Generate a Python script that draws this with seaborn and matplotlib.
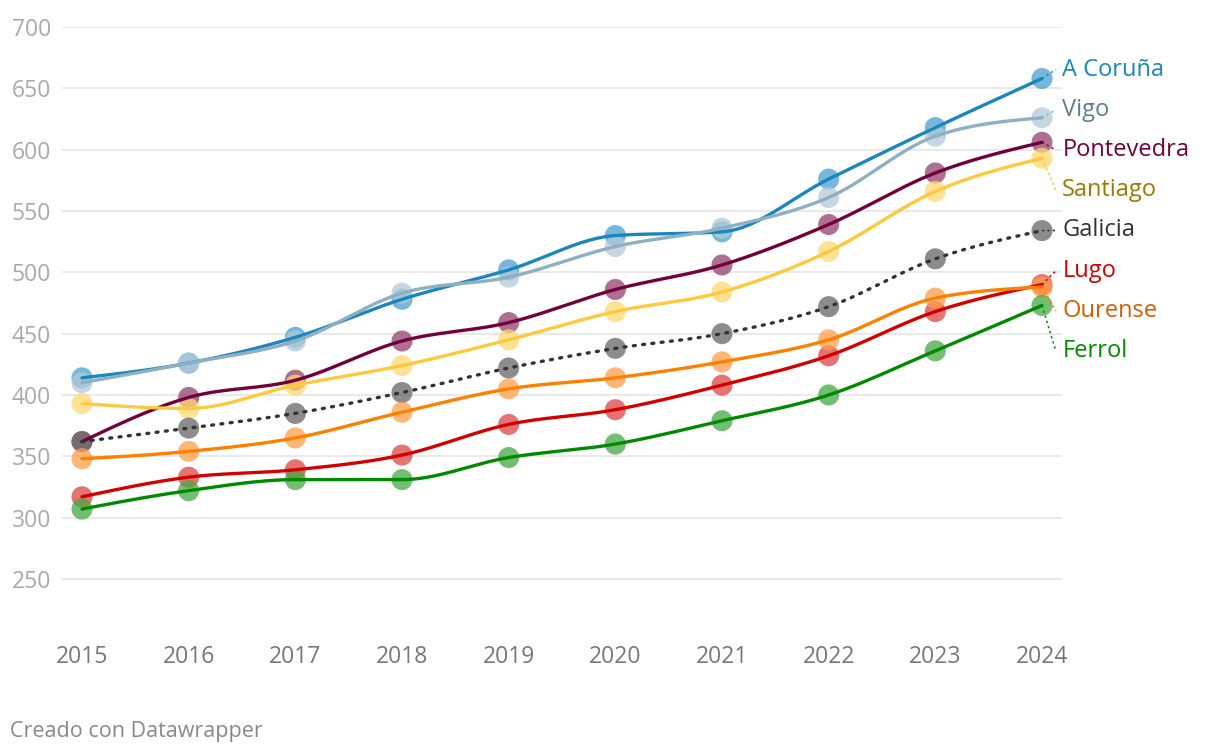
import numpy as np
import pandas as pd
import matplotlib
matplotlib.use("Agg")
import matplotlib.pyplot as plt
import seaborn as sns

years = [2015, 2016, 2017, 2018, 2019, 2020, 2021, 2022, 2023, 2024]
a_coruna = [414, 426, 447, 478, 502, 530, 533, 576, 618, 658]
vigo = [410, 426, 444, 483, 496, 521, 536, 561, 611, 626]
pontevedra = [362, 398, 412, 444, 459, 486, 506, 539, 581, 606]
santiago = [393, 389, 408, 424, 445, 468, 484, 517, 566, 593]
galicia = [362, 373, 385, 402, 422, 438, 450, 472, 511, 534]
lugo = [317, 333, 339, 351, 376, 388, 408, 432, 468, 490]
ourense = [348, 354, 365, 386, 405, 414, 427, 445, 479, 488]
ferrol = [307, 322, 331, 331, 349, 360, 379, 400, 436, 473]

# name -> (values, line colour, dot colour, label colour)
series = {
    "A Coruña": (a_coruna, "#1a86c0", "#4a9fd0", "#1a86c0"),
    "Vigo": (vigo, "#8fb0c2", "#b3cad8", "#5d7d8e"),
    "Pontevedra": (pontevedra, "#72003a", "#93406b", "#72003a"),
    "Santiago": (santiago, "#ffc93c", "#ffd970", "#9c7a00"),
    "Galicia": (galicia, "#333333", "#666666", "#333333"),
    "Lugo": (lugo, "#d40000", "#dd4444", "#d40000"),
    "Ourense": (ourense, "#ff7f00", "#ff9f4a", "#d45e00"),
    "Ferrol": (ferrol, "#008a00", "#44a844", "#008a00"),
}


def monotone(x, y, n=30):
    # monotone cubic (like d3.curveMonotoneX)
    x = np.asarray(x, float)
    y = np.asarray(y, float)
    h = np.diff(x)
    s = np.diff(y) / h
    t = np.zeros_like(y)
    for i in range(1, len(y) - 1):
        p = (s[i - 1] * h[i] + s[i] * h[i - 1]) / (h[i - 1] + h[i])
        t[i] = (np.sign(s[i - 1]) + np.sign(s[i])) * min(abs(s[i - 1]), abs(s[i]), 0.5 * abs(p))
    t[0] = (3 * s[0] - t[1]) / 2
    t[-1] = (3 * s[-1] - t[-2]) / 2
    xs, ys = [], []
    for i in range(len(h)):
        u = np.linspace(0, 1, n)
        h00 = 2 * u**3 - 3 * u**2 + 1
        h10 = u**3 - 2 * u**2 + u
        h01 = -2 * u**3 + 3 * u**2
        h11 = u**3 - u**2
        xs.append(x[i] + u * h[i])
        ys.append(h00 * y[i] + h10 * h[i] * t[i] + h01 * y[i + 1] + h11 * h[i] * t[i + 1])
    return np.concatenate(xs), np.concatenate(ys)


sns.set_theme(style="white")
plt.rcParams["font.family"] = ["Open Sans", "DejaVu Sans"]

fig = plt.figure(figsize=(12.2, 7.54), dpi=100)
ax = fig.add_axes([62 / 1220, 124 / 754, 1000 / 1220, 603 / 754])

for y in range(250, 701, 50):
    ax.axhline(y, color="#e3e3e3", lw=1.1, zorder=0)

for name, (vals, lc, dc, tc) in series.items():
    df = pd.DataFrame({"year": years, "value": vals})
    sx, sy = monotone(years, vals)
    ls = (0, (0.6, 2.2)) if name == "Galicia" else "-"
    ax.plot(sx, sy, color=lc, lw=2.4, ls=ls, dash_capstyle="round", zorder=3)
    sns.scatterplot(data=df, x="year", y="value", color=dc, s=230, alpha=0.75,
                    edgecolor="none", ax=ax, zorder=2, legend=False)

# label placement: spread labels evenly around last values
names = sorted(series, key=lambda k: -series[k][0][-1])
last = np.array([series[k][0][-1] for k in names], float)
gap = 32.8
center = last.mean() - 8
pos = center + gap * ((len(names) - 1) / 2 - np.arange(len(names)))
for name, p in zip(names, pos):
    vals, lc, dc, tc = series[name]
    ax.plot([2024, 2024.13], [vals[-1], p], color=lc, lw=1.1, ls=(0, (1.5, 2)),
            clip_on=False, zorder=4)
    ax.text(2024.19, p, name, color=tc, fontsize=17, va="center", ha="left",
            clip_on=False)

ax.set_xlim(2014.8125, 2024.1875)
ax.set_ylim(208.4, 700)
ax.set_xticks(years)
ax.set_yticks(range(250, 701, 50))
ax.tick_params(axis="x", colors="#777777", labelsize=16.5, length=0, pad=11)
ax.tick_params(axis="y", colors="#aaaaaa", labelsize=16.5, length=0, pad=8)
ax.set_xlabel("")
ax.set_ylabel("")
for sp in ax.spines.values():
    sp.set_visible(False)

fig.text(10 / 1220, 1 - 731 / 754, "Creado con Datawrapper", color="#888888",
         fontsize=15.5, va="center", ha="left")

fig.savefig("out.png", dpi=100)
